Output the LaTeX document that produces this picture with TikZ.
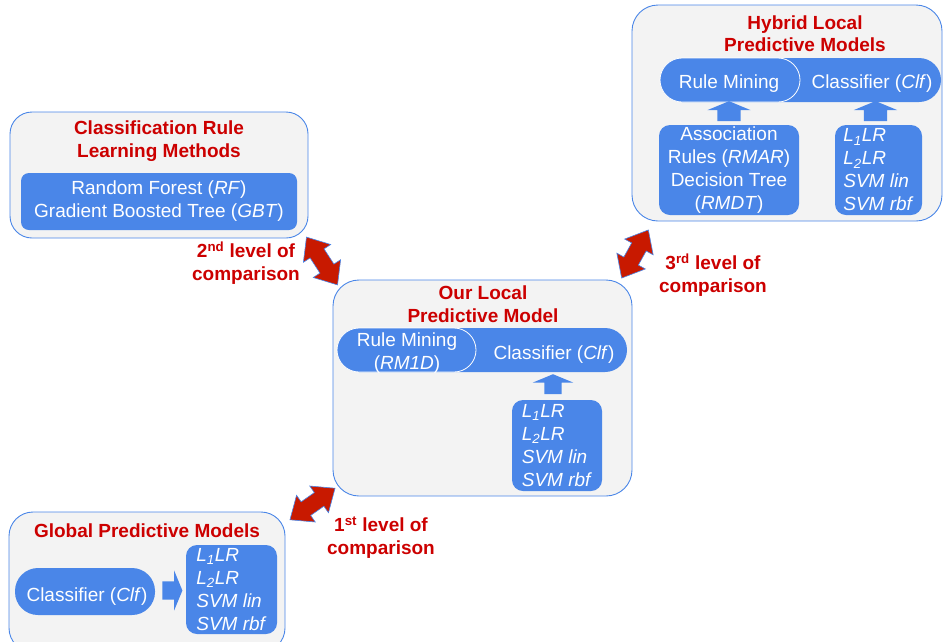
\documentclass[tikz,border=0pt]{standalone}
\usepackage{fontspec}
\setmainfont{Liberation Sans}
\usetikzlibrary{shapes.arrows,calc}
\definecolor{bblue}{RGB}{74,134,232}
\definecolor{tred}{RGB}{204,0,0}
\definecolor{ared}{RGB}{200,25,0}
\definecolor{boxfill}{RGB}{243,243,243}
\tikzset{
  outer/.style={draw=bblue, line width=0.9pt, fill=boxfill, rounded corners=26pt, inner sep=0pt},
  ttl/.style={text=tred, font=\fontsize{19}{22.5}\selectfont\bfseries, align=center, inner sep=0pt},
  bluebox/.style={fill=bblue, rounded corners=11pt, text=white, font=\fontsize{19}{23}\selectfont, inner sep=0pt},
  pill/.style={fill=bblue, rounded corners=22pt, inner sep=0pt},
  pillL/.style={fill=bblue, draw=white, line width=0.8pt, rounded corners=22pt, inner sep=0pt},
  wtext/.style={text=white, font=\fontsize{19}{23}\selectfont, align=center, inner sep=0pt},
  lvl/.style={text=tred, font=\fontsize{19}{22.5}\selectfont\bfseries, align=center, inner sep=0pt},
  cmparrow/.style={double arrow, fill=ared, draw=bblue, line width=0.6pt, inner xsep=0pt, inner ysep=8pt,
    double arrow head extend=8pt, double arrow tip angle=80},
  flowarrow/.style={single arrow, fill=bblue, inner xsep=0pt, single arrow tip angle=135}
}
\begin{document}
\begin{tikzpicture}[x=1pt,y=-1pt]
\useasboundingbox (0,0) rectangle (944,641);

% ---------- Hybrid Local Predictive Models ----------
\node[outer, minimum width=310pt, minimum height=216pt] (hyb) at (787,113) {};
\node[ttl] (hybt) at (805,33.5) {Hybrid Local\\Predictive Models};
\node[pill, minimum width=281pt, minimum height=44pt] (hclf) at (800.5,80) {};
\node[pillL, minimum width=140pt, minimum height=44pt] (hrm) at (730,80) {};
\node[wtext] (hrmt) at (729,84) {Rule Mining};
\node[wtext] (hclft) at (872,84) {Classifier (\textit{Clf})};
\node[bluebox, align=center, minimum width=140pt, minimum height=90pt] (har) at (729,170)
  {Association\\Rules (\textit{RMAR})\\Decision Tree\\(\textit{RMDT})};
\node[bluebox, align=left, minimum width=87pt, minimum height=90pt] (hl) at (878.5,170)
  {\textit{L\textsubscript{1}LR}\\\textit{L\textsubscript{2}LR}\\\textit{SVM lin}\\\textit{SVM rbf}};
\node[flowarrow, rotate=90, minimum height=20pt, inner ysep=11.5pt, single arrow head extend=10pt]
  (hup1) at ($(har.north)!0.5!(har.north |- hrm.south)$) {};
\node[flowarrow, rotate=90, minimum height=20pt, inner ysep=11.5pt, single arrow head extend=10pt]
  (hup2) at ($(hl.north)!0.5!(hl.north |- hclf.south)+(-3,0)$) {};

% ---------- Classification Rule Learning Methods ----------
\node[outer, rounded corners=22pt, minimum width=298pt, minimum height=126pt] (cls) at (159,175) {};
\node[ttl] (clst) at (159,141) {Classification Rule\\Learning Methods};
\node[bluebox, rounded corners=8pt, align=center, minimum width=276pt, minimum height=57pt] (clsb) at (159,201.5)
  {Random Forest (\textit{RF})\\Gradient Boosted Tree (\textit{GBT})};

% ---------- Our Local Predictive Model ----------
\node[outer, minimum width=299pt, minimum height=216pt] (ours) at (482.5,388) {};
\node[ttl] (ourst) at (483,304) {Our Local\\Predictive Model};
\node[pill, minimum width=290pt, minimum height=44pt] (oclf) at (482,350) {};
\node[pillL, minimum width=139pt, minimum height=44pt] (orm) at (406.5,350) {};
\node[wtext] (ormt) at (407,353.5) {Rule Mining\\(\textit{RM1D})};
\node[wtext] (oclft) at (554,355) {Classifier (\textit{Clf})};
\node[bluebox, align=left, minimum width=90pt, minimum height=91pt] (ol) at (557,445.5)
  {\textit{L\textsubscript{1}LR}\\\textit{L\textsubscript{2}LR}\\\textit{SVM lin}\\\textit{SVM rbf}};
\node[flowarrow, rotate=90, minimum height=20pt, inner ysep=8.5pt, single arrow head extend=11.5pt]
  (oup) at ($(ol.north)!0.5!(ol.north |- oclf.south)+(-4,0)$) {};

% ---------- Global Predictive Models ----------
\node[outer, rounded corners=24pt, minimum width=276pt, minimum height=140pt] (glob) at (147,582) {};
\node[ttl] (globt) at (147,531) {Global Predictive Models};
\node[pill, rounded corners=23pt, minimum width=140pt, minimum height=47pt] (gclf) at (85,591.5) {};
\node[wtext] (gclft) at (87,597) {Classifier (\textit{Clf})};
\node[bluebox, align=left, minimum width=91pt, minimum height=89pt] (gl) at (231.5,589.5)
  {\textit{L\textsubscript{1}LR}\\\textit{L\textsubscript{2}LR}\\\textit{SVM lin}\\\textit{SVM rbf}};
\node[flowarrow, minimum height=20pt, inner ysep=9pt, single arrow head extend=11pt]
  (gright) at ($(gclf.east)!0.5!(gl.west)$) {};

% ---------- comparison arrows ----------
\node[cmparrow, minimum height=57pt, rotate=-57] (c2) at ($(cls.south east)!0.5!(ours.north west)+(1.5,2)$) {};
\node[cmparrow, minimum height=55pt, rotate=61] (c3) at ($(ours.north east)!0.5!(hyb.south west)+(3,3.5)$) {};
\node[cmparrow, minimum height=55pt, rotate=35] (c1) at ($(glob.north east)!0.5!(ours.south west)+(3.5,0)$) {};

\node[lvl] (l2) at (246,263) {2\textsuperscript{nd} level of\\comparison};
\node[lvl] (l3) at (713,275) {3\textsuperscript{rd} level of\\comparison};
\node[lvl] (l1) at (381,537.5) {1\textsuperscript{st} level of\\comparison};
\end{tikzpicture}
\end{document}
